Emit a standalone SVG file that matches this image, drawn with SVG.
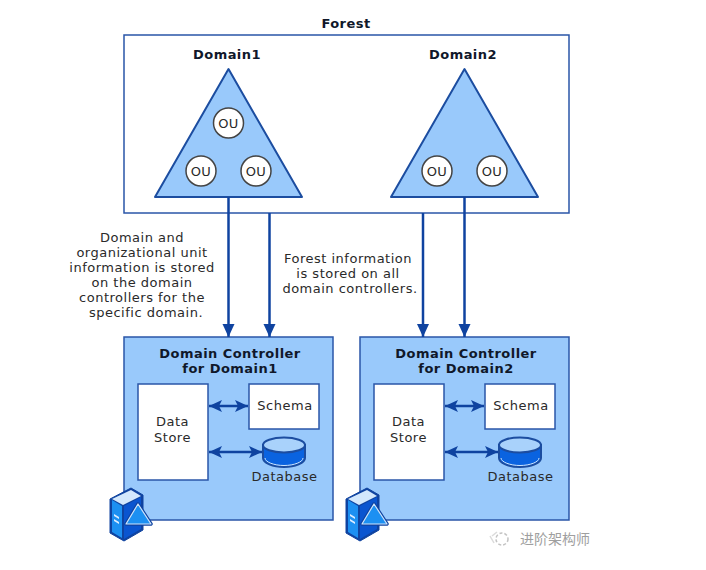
<svg xmlns="http://www.w3.org/2000/svg" width="706" height="570" viewBox="0 0 706 570">
  <style>
    text { font-family: "DejaVu Sans", Verdana, sans-serif; font-size: 13px; letter-spacing: 0.5px; fill: #2a2a2a; text-anchor: middle; }
    .b { font-weight: bold; letter-spacing: 0.45px; fill: #10182a; }
    .box { fill: #fff; stroke: #2a56a8; stroke-width: 1.5; }
    .dc { fill: #99c9fb; stroke: #2a56a8; stroke-width: 1.5; }
    .tri { fill: #99c9fb; stroke: #1c4da0; stroke-width: 2; stroke-linejoin: round; }
    .ou { fill: #fff; stroke: #444; stroke-width: 1.5; }
    .ln { fill: none; stroke: #0f43a0; stroke-width: 2.5; marker-end: url(#dn); }
    .dbl { fill: none; stroke: #0f43a0; stroke-width: 2.5; marker-start: url(#hs); marker-end: url(#he); }
  </style>
  <defs>
    <marker id="he" markerUnits="userSpaceOnUse" markerWidth="14" markerHeight="13" refX="13" refY="6.500" orient="auto"><path d="M0 0.500L13 6.500L0 12.500L3 6.500Z" fill="#0f43a0"/></marker>
    <marker id="hs" markerUnits="userSpaceOnUse" markerWidth="14" markerHeight="13" refX="0" refY="6.500" orient="auto"><path d="M13 0.500L0 6.500L13 12.500L10 6.500Z" fill="#0f43a0"/></marker>
    <marker id="dn" markerUnits="userSpaceOnUse" markerWidth="14" markerHeight="13" refX="13" refY="6" orient="auto"><path d="M0 0L13 6L0 12Z" fill="#0f43a0"/></marker>
    <g id="db">
      <path d="M-21 -1V12C-21 17 -11 21 0 21C11 21 21 17 21 12V-1Z" fill="#0a63e0" stroke="#1c4da0" stroke-width="2"/>
      <path d="M-19 12C-19 16 -10 19.500 0 19.500C10 19.500 19 16 19 12" fill="none" stroke="#cfe4fb" stroke-width="1"/>
      <ellipse cx="0" cy="-1" rx="21" ry="7.500" fill="#a9d2fb" stroke="#1c4da0" stroke-width="2"/>
    </g>
    <!-- server tower with a domain triangle on its front -->
    <g id="srv">
      <path d="M-20 -11L1 -22L13 -15V20L-6 31L-20 23Z" fill="#0f43a0" stroke="#0f43a0" stroke-linejoin="round"/>
      <path d="M-18 -11L1 -20L11 -14L-7 -5Z" fill="#d3e8fd"/>
      <path d="M-18 -10L-8 -4V28L-18 22Z" fill="#1c90f2"/>
      <path d="M-6 -4L11 -13V19L-6 29Z" fill="#0a55d0"/>
      <path d="M-16 4L-11 7V9L-16 6ZM-16 9L-11 12V14L-16 11Z" fill="#dcecff"/>
      <path d="M8 -6L21 14H-4Z" fill="#1c90f2" stroke="#0f43a0" stroke-width="3.500" stroke-linejoin="round"/>
      <path d="M8 -6L21 14H-4Z" fill="#1c90f2" stroke="#cfe4fb" stroke-width="1.200" stroke-linejoin="round"/>
    </g>
  </defs>

  <text class="b" x="346" y="28">Forest</text>

  <g id="forest">
    <rect x="124" y="35" width="445" height="178" fill="#fff" stroke="#2a56a8" stroke-width="1.5"/>
  </g>

  <g id="domain1">
    <text class="b" x="227" y="59">Domain1</text>
    <path class="tri" d="M228.500 69L302 197H155Z"/>
    <circle class="ou" cx="228.500" cy="123" r="15"/><text x="228.500" y="128">OU</text>
    <circle class="ou" cx="201" cy="171" r="15"/><text x="201" y="176">OU</text>
    <circle class="ou" cx="256" cy="171" r="15"/><text x="256" y="176">OU</text>
  </g>

  <g id="domain2">
    <text class="b" x="463" y="59">Domain2</text>
    <path class="tri" d="M464.500 69L538 197H391Z"/>
    <circle class="ou" cx="437" cy="171" r="15"/><text x="437" y="176">OU</text>
    <circle class="ou" cx="492" cy="171" r="15"/><text x="492" y="176">OU</text>
  </g>

  <g id="dc1">
    <rect class="dc" x="124" y="337" width="209" height="183"/>
    <text class="b" x="230" y="358">Domain Controller</text>
    <text class="b" x="230" y="373">for Domain1</text>
    <rect class="box" x="138" y="384" width="70" height="96"/>
    <text x="172.500" y="426">Data</text>
    <text x="172.500" y="442">Store</text>
    <rect class="box" x="249" y="384" width="70" height="45"/>
    <text x="285" y="410">Schema</text>
    <use href="#db" x="284" y="446"/>
    <text x="284.500" y="481">Database</text>
    <use href="#srv" x="130" y="510"/>
  </g>

  <g id="dc2">
    <rect class="dc" x="360" y="337" width="209" height="183"/>
    <text class="b" x="466" y="358">Domain Controller</text>
    <text class="b" x="466" y="373">for Domain2</text>
    <rect class="box" x="374" y="384" width="70" height="96"/>
    <text x="408.500" y="426">Data</text>
    <text x="408.500" y="442">Store</text>
    <rect class="box" x="485" y="384" width="70" height="45"/>
    <text x="521" y="410">Schema</text>
    <use href="#db" x="520" y="446"/>
    <text x="520.500" y="481">Database</text>
    <use href="#srv" x="366" y="510"/>
  </g>

  <g id="connectors">
    <path class="ln" d="M228.500 197V337"/>
    <path class="ln" d="M269.500 213V337"/>
    <path class="ln" d="M423 213V337"/>
    <path class="ln" d="M464.500 197V337"/>
    <path class="dbl" d="M209 406H248"/>
    <path class="dbl" d="M209 452H262"/>
    <path class="dbl" d="M445 406H484"/>
    <path class="dbl" d="M445 452H498"/>
  </g>

  <g id="notes">
    <text x="142" y="242">Domain and</text>
    <text x="142" y="257">organizational unit</text>
    <text x="142" y="272">information is stored</text>
    <text x="142" y="287">on the domain</text>
    <text x="142" y="302">controllers for the</text>
    <text x="146" y="317">specific domain.</text>
    <text x="348" y="263">Forest information</text>
    <text x="348" y="278">is stored on all</text>
    <text x="350" y="293">domain controllers.</text>
  </g>

  <g id="badge" opacity="0.7">
    <circle cx="502" cy="539" r="6" fill="none" stroke="#aaa" stroke-width="1.500" stroke-dasharray="3 2"/>
    <path d="M490 536L494 543M497 532L492 536" stroke="#ccc" stroke-width="1.500" fill="none"/>
    <text x="555" y="544" style="font-family:'Noto Sans CJK SC',sans-serif;font-size:14px;letter-spacing:0;fill:#777">进阶架构师</text>
  </g>
</svg>
